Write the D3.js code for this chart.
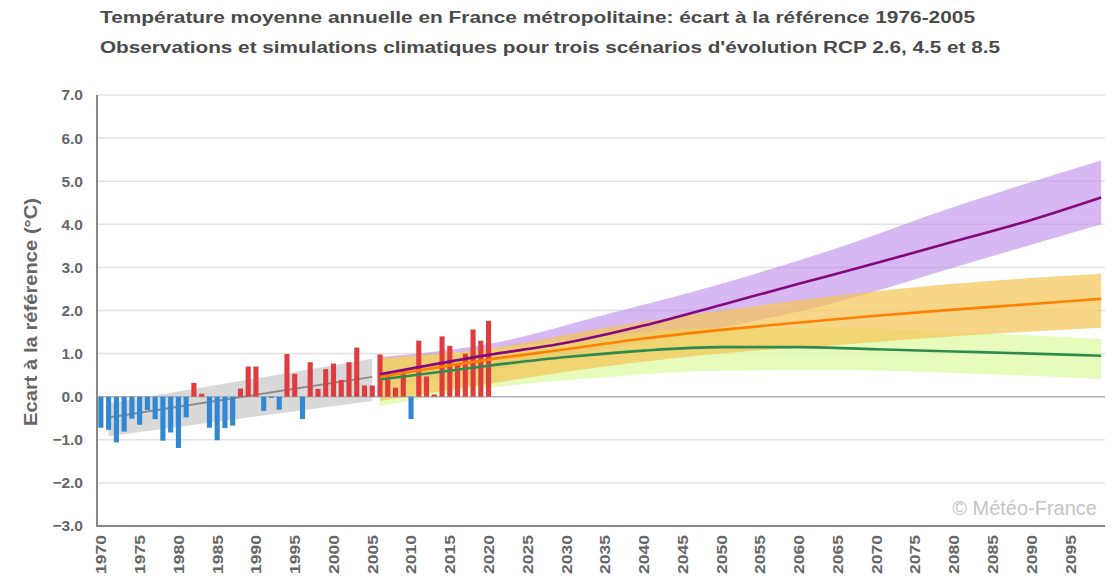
<!DOCTYPE html>
<html lang="fr">
<head>
<meta charset="utf-8">
<script src="https://cdn.jsdelivr.net/npm/d3@7"></script>
<style>
  html, body { margin: 0; padding: 0; background: #fff; }
  svg { display: block; font-family: "Liberation Sans", Arial, sans-serif; }
</style>
</head>
<body>
<svg id="chart" width="1117" height="576"></svg>
<script>
// Annual mean temperature anomaly, France, vs 1976-2005 reference (°C)
const obsYears = d3.range(1970, 2021);
const obsValues = [
  -0.72, -0.77, -1.06, -0.81, -0.51, -0.65, -0.31, -0.52, -1.02, -0.83,
  -1.19, -0.48, 0.32, 0.07, -0.72, -1.01, -0.73, -0.67, 0.19, 0.70,
  0.70, -0.33, -0.03, -0.30, 0.99, 0.53, -0.52, 0.80, 0.18, 0.64,
  0.77, 0.39, 0.80, 1.14, 0.26, 0.26, 0.98, 0.58, 0.21, 0.61,
  -0.52, 1.30, 0.47, 0.05, 1.40, 1.18, 0.76, 1.00, 1.56, 1.30,
  1.76
];

// Observed trend 1971-2005 with its envelope
const trendYears = [1971, 2005];
const trendMid = [-0.48, 0.46];
const trendLow = [-0.92, -0.10];
const trendHigh = [-0.15, 0.88];

// Scenario envelopes and medians
const scenYears = [2006, 2020, 2035, 2050, 2065, 2080, 2099];
const rcp85Low = [0.20, 0.60, 1.10, 1.60, 2.20, 3.00, 4.00];
const rcp85High = [0.92, 1.22, 1.90, 2.62, 3.45, 4.40, 5.48];
const rcp45Low = [-0.10, 0.30, 0.70, 1.00, 1.20, 1.40, 1.60];
const rcp45High = [0.90, 1.12, 1.60, 2.00, 2.35, 2.62, 2.85];
const rcp26Low = [-0.22, 0.20, 0.45, 0.60, 0.62, 0.55, 0.41];
const rcp26High = [0.85, 1.10, 1.40, 1.60, 1.60, 1.50, 1.34];

const lineYears = [2006, 2020, 2030, 2040, 2050, 2060, 2070, 2080, 2090, 2099];
const rcp85Mid = [0.52, 0.97, 1.25, 1.65, 2.13, 2.62, 3.10, 3.60, 4.10, 4.62];
const rcp45Mid = [0.46, 0.86, 1.10, 1.35, 1.55, 1.72, 1.88, 2.02, 2.15, 2.27];
const rcp26Mid = [0.40, 0.72, 0.92, 1.07, 1.15, 1.15, 1.10, 1.05, 1.00, 0.95];

const yTicks = [-3, -2, -1, 0, 1, 2, 3, 4, 5, 6, 7];
const xTickYears = d3.range(1970, 2100, 5);

const titleLines = [
  "Température moyenne annuelle en France métropolitaine: écart à la référence 1976-2005",
  "Observations et simulations climatiques pour trois scénarios d'évolution RCP 2.6, 4.5 et 8.5"
];

const svg = d3.select("#chart");
const plot = { left: 97, right: 1105, top: 95, bottom: 526 };

const x = d3.scaleBand()
  .domain(d3.range(1970, 2100))
  .range([plot.left, plot.right])
  .paddingInner(0.34)
  .paddingOuter(0.17);
const xc = yr => x(yr) + x.bandwidth() / 2;
const y = d3.scaleLinear().domain([-3, 7]).range([plot.bottom, plot.top]);

// horizontal grid
svg.append("g").selectAll("line").data(yTicks.filter(t => t !== -3 && t !== 0)).join("line")
  .attr("x1", plot.left).attr("x2", plot.right)
  .attr("y1", d => y(d)).attr("y2", d => y(d))
  .attr("stroke", "#e3e3e3").attr("stroke-width", 1.5);

// envelopes
const area = (ys, lo, hi) => d3.area()
  .x((d, i) => xc(ys[i]))
  .y0((d, i) => y(lo[i]))
  .y1((d, i) => y(hi[i]))
  .curve(d3.curveMonotoneX)(ys);

svg.append("path").attr("d", area(trendYears, trendLow, trendHigh))
  .attr("fill", "#d9d9d9");
svg.append("path").attr("d", area(scenYears, rcp85Low, rcp85High))
  .attr("fill", "rgb(190,140,236)").attr("fill-opacity", 0.62);
svg.append("path").attr("d", area(scenYears, rcp26Low, rcp26High))
  .attr("fill", "rgb(222,251,160)").attr("fill-opacity", 0.72);
svg.append("path").attr("d", area(scenYears, rcp45Low, rcp45High))
  .attr("fill", "rgb(244,196,84)").attr("fill-opacity", 0.7);

// zero line
svg.append("line")
  .attr("x1", plot.left).attr("x2", plot.right)
  .attr("y1", y(0)).attr("y2", y(0))
  .attr("stroke", "#b4b4b4").attr("stroke-width", 1.5);

// median lines
const line = (ys, vals) => d3.line()
  .x((d, i) => xc(ys[i]))
  .y((d, i) => y(vals[i]))
  .curve(d3.curveMonotoneX)(ys);

svg.append("path").attr("d", line(trendYears, trendMid))
  .attr("fill", "none").attr("stroke", "#8c8c8c").attr("stroke-width", 2);

// observed anomalies
svg.append("g").selectAll("rect").data(obsYears).join("rect")
  .attr("x", d => x(d))
  .attr("width", x.bandwidth())
  .attr("y", (d, i) => y(Math.max(0, obsValues[i])))
  .attr("height", (d, i) => Math.abs(y(obsValues[i]) - y(0)))
  .attr("fill", (d, i) => obsValues[i] >= 0 ? "#e03c40" : "#3287d3");

svg.append("path").attr("d", line(lineYears, rcp26Mid))
  .attr("fill", "none").attr("stroke", "#2e8b50").attr("stroke-width", 2.6);
svg.append("path").attr("d", line(lineYears, rcp45Mid))
  .attr("fill", "none").attr("stroke", "#ff7f00").attr("stroke-width", 2.6);
svg.append("path").attr("d", line(lineYears, rcp85Mid))
  .attr("fill", "none").attr("stroke", "#85087e").attr("stroke-width", 2.6);

// axes
const yAxis = d3.axisLeft(y).tickValues(yTicks).tickSize(0).tickPadding(14)
  .tickFormat(d3.format(".1f"));
const gy = svg.append("g").attr("transform", `translate(${plot.left},0)`).call(yAxis);
gy.select(".domain").remove();
gy.selectAll("text")
  .attr("fill", "#666").attr("font-size", 15.5).attr("font-weight", "bold")
  .attr("font-family", "Liberation Sans, Arial, sans-serif");

const xAxis = d3.axisBottom(x).tickValues(xTickYears).tickSize(0).tickPadding(0);
const gx = svg.append("g").attr("transform", `translate(0,${plot.bottom})`).call(xAxis);
gx.select(".domain").remove();
gx.selectAll("text")
  .attr("fill", "#666").attr("font-size", 15.5).attr("font-weight", "bold")
  .attr("font-family", "Liberation Sans, Arial, sans-serif")
  .attr("text-anchor", "end")
  .attr("dy", "0.35em")
  .attr("textLength", 39).attr("lengthAdjust", "spacingAndGlyphs")
  .attr("transform", "translate(0,9) rotate(-90)")
  .attr("x", 0).attr("y", 0);

svg.append("line")
  .attr("x1", plot.left).attr("x2", plot.left)
  .attr("y1", plot.top).attr("y2", plot.bottom + 1)
  .attr("stroke", "#888").attr("stroke-width", 2);
svg.append("line")
  .attr("x1", plot.left).attr("x2", plot.right)
  .attr("y1", plot.bottom).attr("y2", plot.bottom)
  .attr("stroke", "#888").attr("stroke-width", 2);

// axis title
svg.append("text")
  .attr("transform", `translate(37,312) rotate(-90)`)
  .attr("text-anchor", "middle")
  .attr("fill", "#666").attr("font-size", 18).attr("font-weight", "bold")
  .attr("textLength", 228).attr("lengthAdjust", "spacingAndGlyphs")
  .text("Ecart à la référence (°C)");

// titles
svg.append("text").attr("x", 100).attr("y", 23)
  .attr("fill", "#4a4a4a").attr("font-size", 16).attr("font-weight", "bold")
  .attr("textLength", 875).attr("lengthAdjust", "spacingAndGlyphs")
  .text(titleLines[0]);
svg.append("text").attr("x", 100).attr("y", 53)
  .attr("fill", "#4a4a4a").attr("font-size", 16).attr("font-weight", "bold")
  .attr("textLength", 900).attr("lengthAdjust", "spacingAndGlyphs")
  .text(titleLines[1]);

// credit
svg.append("text").attr("x", 1097).attr("y", 515)
  .attr("text-anchor", "end")
  .attr("fill", "#c4c4c4").attr("font-size", 20)
  .text("© Météo-France");
</script>
</body>
</html>
